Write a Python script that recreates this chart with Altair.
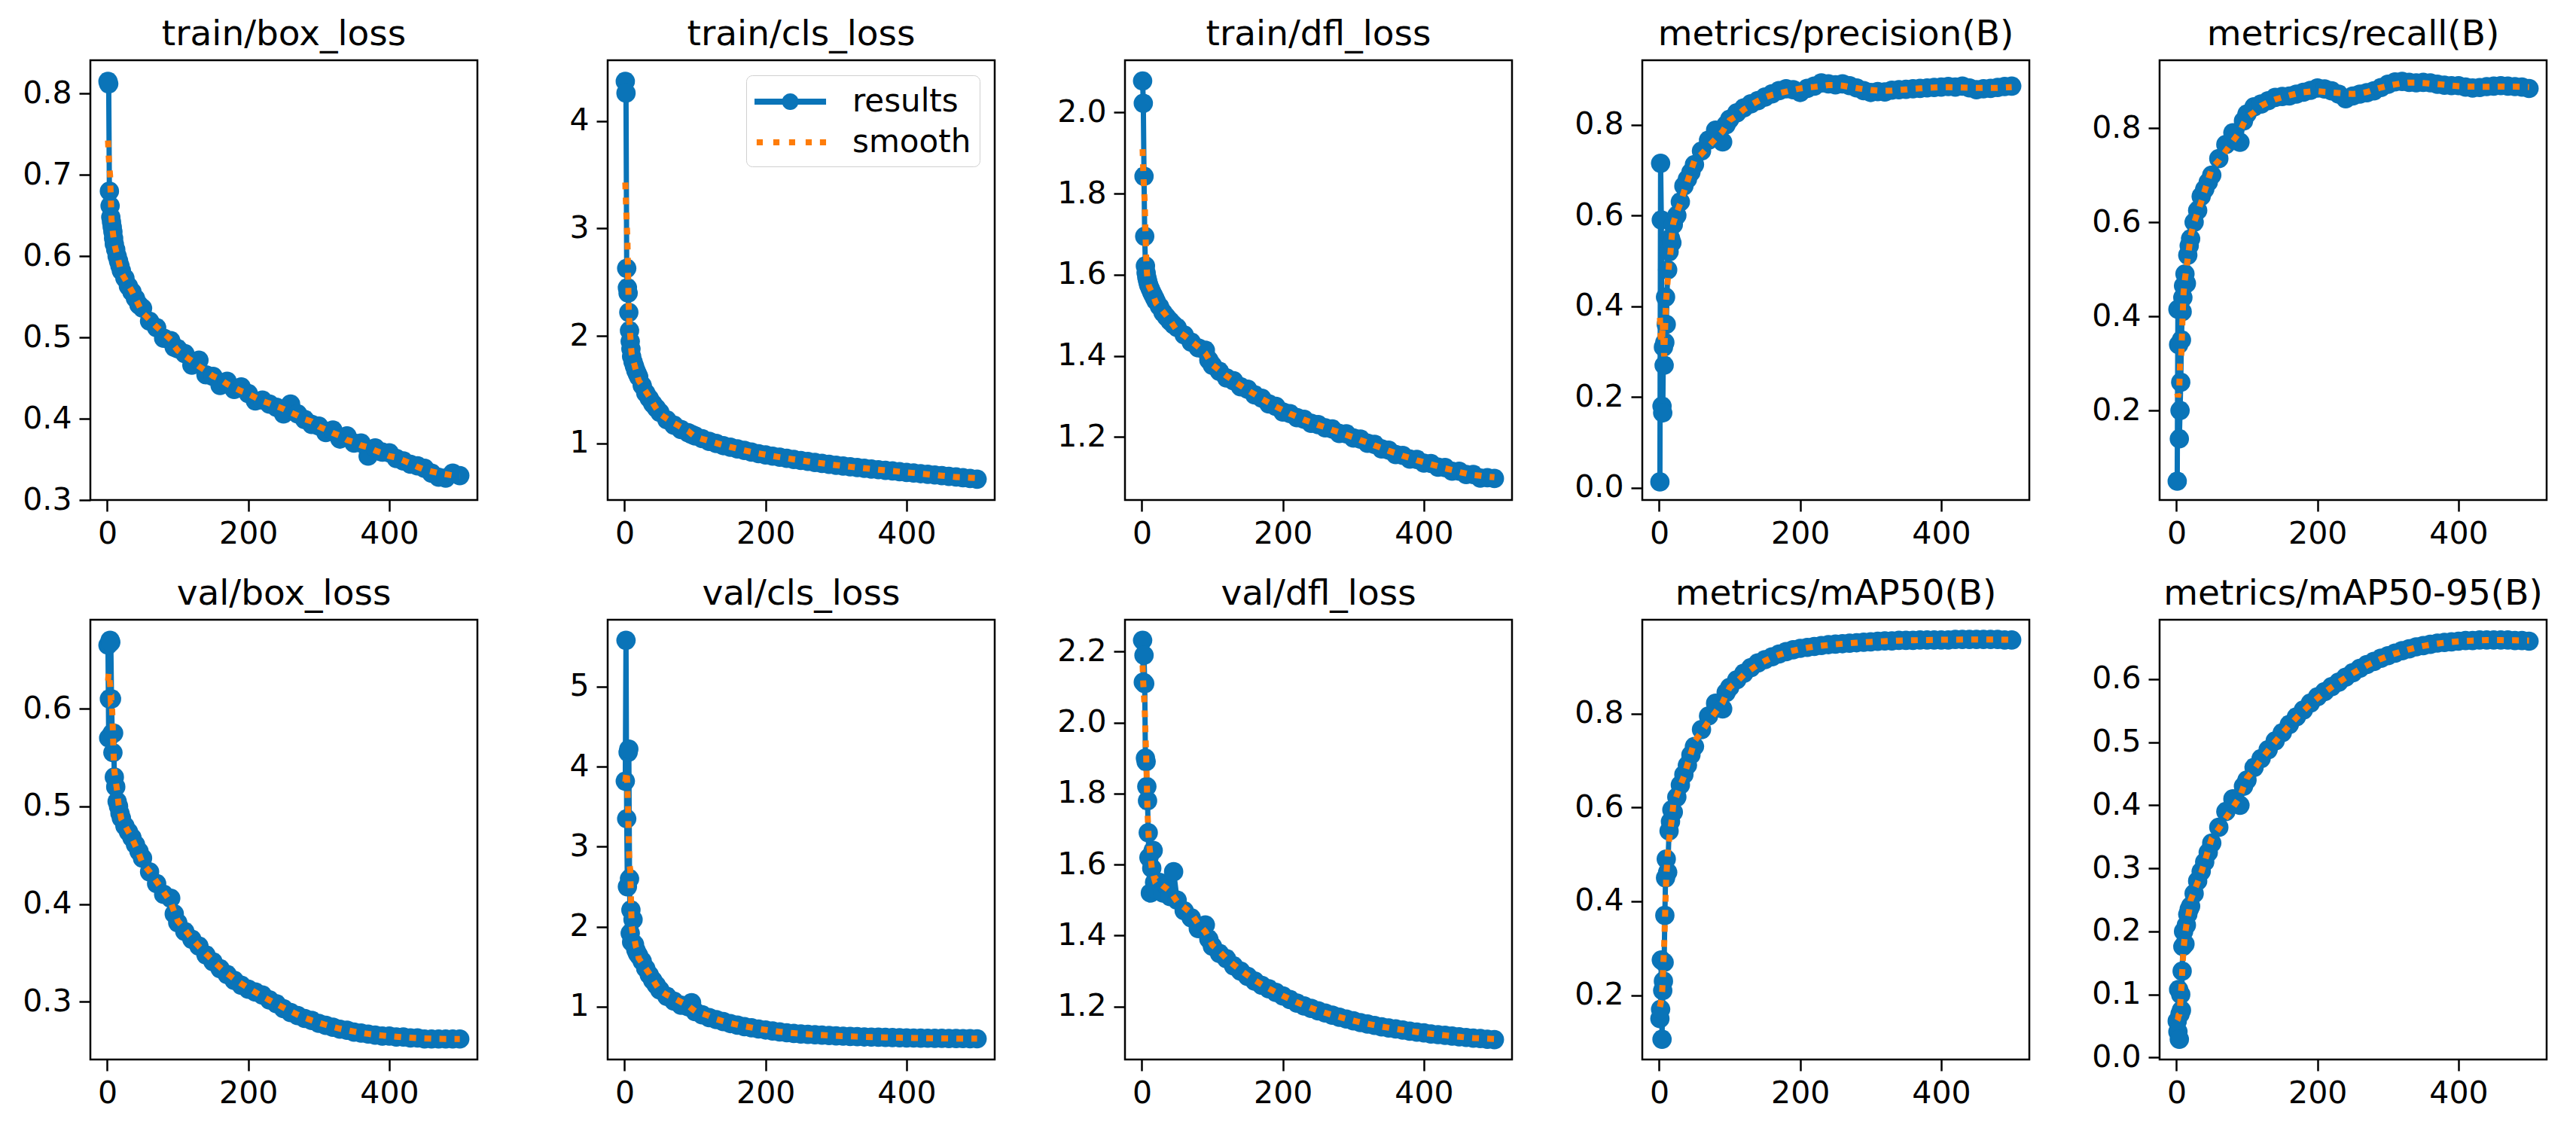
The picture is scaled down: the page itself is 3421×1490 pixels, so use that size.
import altair as alt
import pandas as pd

BLUE = "#0a74b8"
ORANGE = "#fe7c0a"
FONT = "DejaVu Sans"

EPOCHS = [1, 2, 3, 4, 5, 6, 7, 8, 9, 10, 12, 14, 16, 18, 20, 25, 30, 35, 40, 45, 50,
          60, 70, 80, 90, 95, 100, 110, 120, 130, 140, 150, 160, 170, 180, 190,
          200, 210, 220, 230, 240, 250, 260, 270, 280, 290, 300, 310, 320, 330, 340,
          350, 360, 370, 380, 390, 400, 410, 420, 430, 440, 450, 460, 470, 480, 490, 500]

TITLES = ["train/box_loss", "train/cls_loss", "train/dfl_loss", "metrics/precision(B)", "metrics/recall(B)",
          "val/box_loss", "val/cls_loss", "val/dfl_loss", "metrics/mAP50(B)", "metrics/mAP50-95(B)"]

train_box = [0.815, 0.812, 0.680, 0.662, 0.648, 0.642, 0.636, 0.630, 0.622, 0.615,
             0.608, 0.600, 0.594, 0.588, 0.582, 0.573, 0.563, 0.556, 0.548, 0.540, 0.536,
             0.520, 0.512, 0.499, 0.496, 0.488, 0.486, 0.480, 0.466, 0.472, 0.454, 0.452, 0.441, 0.446, 0.436, 0.439,
             0.431, 0.422, 0.423, 0.418, 0.414, 0.406, 0.418, 0.406, 0.399, 0.393, 0.391, 0.383, 0.386, 0.375, 0.379,
             0.370, 0.370, 0.354, 0.364, 0.359, 0.358, 0.351, 0.348, 0.344, 0.342, 0.339, 0.333, 0.328, 0.327, 0.333, 0.330]

train_cls = [4.37, 4.26, 2.63, 2.45, 2.40, 2.22, 2.05, 1.95, 1.88, 1.81,
             1.76, 1.72, 1.68, 1.65, 1.62, 1.54, 1.47, 1.42, 1.37, 1.33, 1.29,
             1.22, 1.17, 1.13, 1.10, 1.085, 1.07, 1.045, 1.02, 1.00, 0.98, 0.965, 0.95, 0.935, 0.92, 0.905,
             0.893, 0.882, 0.872, 0.862, 0.852, 0.842, 0.833, 0.824, 0.815, 0.806, 0.797, 0.790, 0.783, 0.776, 0.769,
             0.762, 0.756, 0.750, 0.744, 0.738, 0.731, 0.725, 0.719, 0.713, 0.707, 0.701, 0.694, 0.688, 0.681, 0.675, 0.668]

train_dfl = [2.078, 2.023, 1.843, 1.695, 1.622, 1.605, 1.594, 1.586, 1.579, 1.573,
             1.565, 1.557, 1.550, 1.543, 1.536, 1.522, 1.507, 1.496, 1.486, 1.477, 1.470,
             1.452, 1.434, 1.420, 1.414, 1.390, 1.377, 1.362, 1.346, 1.339, 1.324, 1.318, 1.304, 1.296, 1.282, 1.276,
             1.262, 1.258, 1.248, 1.244, 1.234, 1.231, 1.223, 1.220, 1.209, 1.208, 1.198, 1.195, 1.185, 1.182, 1.171,
             1.168, 1.157, 1.155, 1.146, 1.145, 1.136, 1.135, 1.126, 1.125, 1.116, 1.116, 1.108, 1.108, 1.099, 1.100, 1.098]

precision = [0.013, 0.715, 0.590, 0.180, 0.165, 0.310, 0.270, 0.320, 0.420, 0.360,
             0.480, 0.520, 0.550, 0.540, 0.580, 0.600, 0.630, 0.665, 0.680, 0.695, 0.712,
             0.742, 0.766, 0.788, 0.762, 0.800, 0.812, 0.826, 0.837, 0.846, 0.853, 0.861, 0.868, 0.875, 0.879, 0.877,
             0.871, 0.880, 0.885, 0.892, 0.890, 0.888, 0.890, 0.886, 0.881, 0.875, 0.871, 0.873, 0.872, 0.876, 0.877,
             0.878, 0.879, 0.880, 0.881, 0.882, 0.883, 0.884, 0.883, 0.885, 0.881, 0.877, 0.879, 0.880, 0.882, 0.884, 0.885]

recall = [0.050, 0.415, 0.340, 0.140, 0.200, 0.260, 0.350, 0.410, 0.440, 0.465,
          0.490, 0.470, 0.530, 0.550, 0.565, 0.600, 0.625, 0.655, 0.670, 0.685, 0.700,
          0.735, 0.765, 0.790, 0.770, 0.815, 0.830, 0.845, 0.851, 0.858, 0.865, 0.867, 0.868, 0.872, 0.876, 0.880,
          0.885, 0.883, 0.879, 0.872, 0.862, 0.868, 0.872, 0.875, 0.879, 0.886, 0.893, 0.898, 0.899, 0.897, 0.896,
          0.897, 0.896, 0.893, 0.891, 0.890, 0.890, 0.887, 0.885, 0.886, 0.888, 0.889, 0.890, 0.889, 0.888, 0.887, 0.884]

val_box = [0.665, 0.570, 0.610, 0.670, 0.668, 0.610, 0.575, 0.555, 0.575, 0.530,
           0.520, 0.505, 0.500, 0.493, 0.488, 0.480, 0.474, 0.468, 0.461, 0.454, 0.447,
           0.433, 0.421, 0.410, 0.406, 0.390, 0.381, 0.372, 0.364, 0.357, 0.348, 0.341, 0.334, 0.328, 0.322, 0.317,
           0.313, 0.310, 0.307, 0.302, 0.298, 0.293, 0.289, 0.286, 0.283, 0.281, 0.278, 0.276, 0.274, 0.272, 0.271,
           0.269, 0.268, 0.267, 0.266, 0.265, 0.265, 0.264, 0.264, 0.263, 0.263, 0.262, 0.262, 0.262, 0.262, 0.262, 0.262]

val_cls = [3.82, 5.58, 3.35, 2.50, 4.18, 4.22, 2.60, 1.92, 2.21, 1.81,
           2.09, 1.78, 1.71, 1.67, 1.64, 1.57, 1.48, 1.40, 1.33, 1.27, 1.21,
           1.13, 1.07, 1.02, 1.00, 1.05, 0.94, 0.90, 0.865, 0.84, 0.815, 0.79, 0.77, 0.752, 0.737, 0.722,
           0.710, 0.697, 0.685, 0.675, 0.667, 0.660, 0.655, 0.650, 0.645, 0.641, 0.637, 0.633, 0.629, 0.626, 0.623,
           0.621, 0.619, 0.617, 0.615, 0.613, 0.611, 0.609, 0.608, 0.607, 0.606, 0.605, 0.604, 0.603, 0.602, 0.601, 0.600]

val_dfl = [2.232, 2.114, 2.190, 2.110, 1.900, 1.890, 1.820, 1.780, 1.690, 1.620,
           1.520, 1.590, 1.640, 1.550, 1.530, 1.550, 1.520, 1.540, 1.510, 1.580, 1.500,
           1.470, 1.450, 1.420, 1.430, 1.390, 1.370, 1.350, 1.335, 1.315, 1.300, 1.285, 1.272, 1.260, 1.250, 1.240,
           1.230, 1.220, 1.210, 1.202, 1.195, 1.188, 1.182, 1.176, 1.170, 1.165, 1.160, 1.155, 1.151, 1.147, 1.143,
           1.140, 1.137, 1.134, 1.131, 1.128, 1.126, 1.123, 1.121, 1.119, 1.117, 1.115, 1.113, 1.111, 1.110, 1.108, 1.107]

map50 = [0.150, 0.170, 0.275, 0.106, 0.210, 0.230, 0.270, 0.370, 0.450, 0.490,
         0.462, 0.550, 0.570, 0.595, 0.590, 0.622, 0.648, 0.670, 0.690, 0.712, 0.730,
         0.766, 0.795, 0.822, 0.810, 0.845, 0.856, 0.872, 0.886, 0.898, 0.908, 0.915, 0.921, 0.927, 0.932, 0.936,
         0.939, 0.941, 0.943, 0.945, 0.947, 0.948, 0.949, 0.950, 0.951, 0.952, 0.953, 0.954, 0.955, 0.955, 0.956,
         0.956, 0.956, 0.957, 0.957, 0.957, 0.957, 0.957, 0.958, 0.958, 0.958, 0.958, 0.958, 0.958, 0.958, 0.957, 0.957]

map50_95 = [0.058, 0.041, 0.108, 0.029, 0.069, 0.100, 0.075, 0.137, 0.176, 0.200,
            0.180, 0.210, 0.227, 0.235, 0.240, 0.260, 0.280, 0.295, 0.310, 0.325, 0.340,
            0.365, 0.390, 0.410, 0.400, 0.430, 0.440, 0.460, 0.474, 0.488, 0.502, 0.515, 0.528, 0.540, 0.551, 0.562,
            0.572, 0.580, 0.588, 0.595, 0.603, 0.610, 0.617, 0.623, 0.628, 0.633, 0.637, 0.641, 0.645, 0.648, 0.651,
            0.653, 0.655, 0.657, 0.658, 0.659, 0.660, 0.661, 0.661, 0.662, 0.662, 0.662, 0.662, 0.662, 0.661, 0.661, 0.660]

SERIES = [train_box, train_cls, train_dfl, precision, recall,
          val_box, val_cls, val_dfl, map50, map50_95]

Y_DOMAINS = [[0.300, 0.841], [0.474, 4.566], [1.045, 2.129], [-0.027, 0.942], [0.010, 0.944],
             [0.241, 0.691], [0.341, 5.837], [1.051, 2.290], [0.063, 1.000], [-0.003, 0.694]]
Y_TICKS = [[0.3, 0.4, 0.5, 0.6, 0.7, 0.8], [1, 2, 3, 4], [1.2, 1.4, 1.6, 1.8, 2.0],
           [0.0, 0.2, 0.4, 0.6, 0.8], [0.2, 0.4, 0.6, 0.8],
           [0.3, 0.4, 0.5, 0.6], [1, 2, 3, 4, 5], [1.2, 1.4, 1.6, 1.8, 2.0, 2.2],
           [0.2, 0.4, 0.6, 0.8], [0.0, 0.1, 0.2, 0.3, 0.4, 0.5, 0.6]]
Y_FORMATS = [".1f", "d", ".1f", ".1f", ".1f", ".1f", "d", ".1f", ".1f", ".1f"]
X_TICKS = [0, 200, 400]
LEGEND_NAMES = ["results", "smooth"]

# legend symbols (symbol unit = 24 px): a line with a dot, and a dotted line
PATH_RESULTS = ("M-1,-0.17L2.96,-0.17L2.96,0.17L-1,0.17Z "
                "M0.52,0A0.46,0.46 0 0,1 1.44,0A0.46,0.46 0 0,1 0.52,0Z")
PATH_SMOOTH = " ".join(
    "M{:.3f},-0.17h0.34v0.34h-0.34Z".format(c - 0.17) for c in [-0.71, 0.21, 1.08, 2.0, 2.79]
)

W, H = 514, 584


def panel(i):
    df = pd.DataFrame({"epoch": EPOCHS, "value": SERIES[i]})
    xs = alt.Scale(domain=[-24, 525], nice=False, zero=False)
    ys = alt.Scale(domain=Y_DOMAINS[i], nice=False, zero=False)
    xa = alt.Axis(values=X_TICKS, format="d", title=None)
    ya = alt.Axis(values=Y_TICKS[i], format=Y_FORMATS[i], title=None)
    x = alt.X("epoch:Q", scale=xs, axis=xa)
    base = alt.Chart(df)
    line = base.mark_line(color=BLUE, strokeWidth=7).encode(
        x=x, y=alt.Y("value:Q", scale=ys, axis=ya))
    pts = base.mark_circle(color=BLUE, size=660, opacity=1).encode(
        x=x, y=alt.Y("value:Q", scale=ys, axis=ya))
    smooth = base.transform_window(
        smooth="mean(value)", frame=[-3, 3], sort=[alt.SortField("epoch")]
    ).mark_line(color=ORANGE, strokeWidth=8, strokeDash=[9, 11]).encode(
        x=x, y=alt.Y("smooth:Q", scale=ys, axis=ya))
    layers = [line, pts, smooth]
    if i == 1:
        leg = alt.Legend(orient="top-right", offset=20, symbolSize=2304, symbolOpacity=1,
                         symbolStrokeWidth=0, labelFontSize=42, labelFont=FONT, labelColor="black",
                         padding=11, rowPadding=9, labelOffset=82, fillColor="white",
                         strokeColor="#d0d0d0", cornerRadius=8)
        ldf = pd.DataFrame({"series": LEGEND_NAMES})
        legend_layer = alt.Chart(ldf).mark_point(filled=True, opacity=0).encode(
            color=alt.Color("series:N", title=None,
                            scale=alt.Scale(domain=LEGEND_NAMES, range=[BLUE, ORANGE]), legend=leg),
            shape=alt.Shape("series:N", title=None,
                            scale=alt.Scale(domain=LEGEND_NAMES, range=[PATH_RESULTS, PATH_SMOOTH]),
                            legend=leg),
        )
        layers.append(legend_layer)
    return alt.layer(*layers).properties(width=W, height=H, title=TITLES[i])


chart = alt.concat(
    *[panel(i) for i in range(10)],
    columns=5, spacing={"row": 159, "column": 173}, bounds="flush",
).resolve_scale(
    x="independent", y="independent", color="independent", shape="independent"
).resolve_legend(
    color="independent", shape="independent"
).properties(
    padding={"left": 20, "top": 12, "right": 5, "bottom": 5},
    background="white",
).configure_view(
    stroke="black", strokeWidth=2.5
).configure_axis(
    labelFontSize=41, labelFont=FONT, labelColor="black", tickColor="black",
    tickWidth=2.5, tickSize=15, labelPadding=10, domain=False, grid=False,
    labelFlush=False, labelOverlap=False,
).configure_title(
    fontSize=47, font=FONT, fontWeight="normal", color="black", offset=10, anchor="middle"
)

chart.save("out.html", embed_options={"renderer": "svg", "actions": False})
